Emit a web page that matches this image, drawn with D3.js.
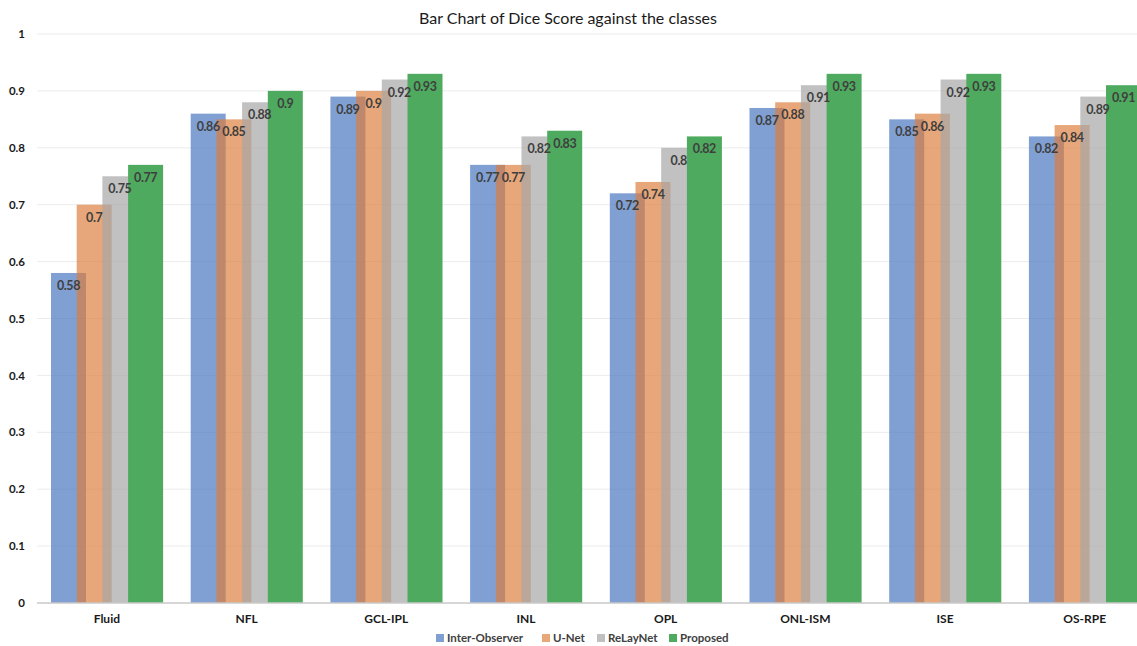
<!DOCTYPE html>
<html>
<head>
<meta charset="utf-8">
<script src="https://cdn.jsdelivr.net/npm/d3@7"></script>
<style>
  html, body { margin: 0; padding: 0; background: #fff; }
  svg { display: block; font-family: Lato, "Open Sans", sans-serif; }
</style>
</head>
<body>
<svg id="chart" width="1137" height="646"></svg>
<script>
// Dice scores per retinal layer class
const classes = ["Fluid", "NFL", "GCL-IPL", "INL", "OPL", "ONL-ISM", "ISE", "OS-RPE"];
const seriesNames = ["Inter-Observer", "U-Net", "ReLayNet", "Proposed"];
const interObserver = [0.58, 0.86, 0.89, 0.77, 0.72, 0.87, 0.85, 0.82];
const uNet          = [0.70, 0.85, 0.90, 0.77, 0.74, 0.88, 0.86, 0.84];
const reLayNet      = [0.75, 0.88, 0.92, 0.82, 0.80, 0.91, 0.92, 0.89];
const proposed      = [0.77, 0.90, 0.93, 0.83, 0.82, 0.93, 0.93, 0.91];
const yTicks = [0, 0.1, 0.2, 0.3, 0.4, 0.5, 0.6, 0.7, 0.8, 0.9, 1];

const seriesValues = [interObserver, uNet, reLayNet, proposed];
const colors = ["rgba(74,119,194,0.7)", "rgba(221,125,59,0.68)", "rgba(166,166,166,0.7)", "#4eaa5e"];
const legendColors = ["#80a0d4", "#e8a87a", "#c0c0c0", "#4eaa5e"];

const svg = d3.select("#chart");
const W = 1137, H = 646;
const plotLeft = 37, plotRight = 1137;
const yTop = 34, yBottom = 603;

// the category axis runs slightly past the right edge of the canvas
const x = d3.scaleBand().domain(classes).range([plotLeft, plotLeft + 8 * 139.7]).padding(0);
const y = d3.scaleLinear().domain([0, 1]).range([yBottom, yTop]);

// bars within a class overlap: each is wider than the step between them
const barW = 35;
const xs = d3.scalePoint().domain(seriesNames).range([14, 14 + 3 * 25.7]);

// title
svg.append("text")
  .attr("x", 568).attr("y", 24)
  .attr("text-anchor", "middle")
  .attr("font-size", 16)
  .attr("fill", "#1a1a1a")
  .text("Bar Chart of Dice Score against the classes");

// gridlines
svg.append("g")
  .selectAll("line")
  .data(yTicks.filter(t => t > 0))
  .join("line")
  .attr("x1", plotLeft).attr("x2", plotRight)
  .attr("y1", d => y(d)).attr("y2", d => y(d))
  .attr("stroke", "#ececec").attr("stroke-width", 1);

// y axis labels
const yAxis = d3.axisLeft(y).tickValues(yTicks).tickSize(0).tickPadding(12)
  .tickFormat(d => d3.format("~g")(d));
const yg = svg.append("g").attr("transform", `translate(${plotLeft},0)`).call(yAxis);
yg.select(".domain").remove();
yg.selectAll("text")
  .attr("font-family", "Lato, sans-serif")
  .attr("font-weight", "bold")
  .attr("font-size", 11.5)
  .attr("fill", "#1a1a1a");

// bars
const bars = svg.append("g");
seriesNames.forEach((s, si) => {
  bars.append("g")
    .selectAll("rect")
    .data(classes.map((c, ci) => ({ c, v: seriesValues[si][ci] })))
    .join("rect")
    .attr("x", d => x(d.c) + xs(s))
    .attr("width", barW)
    .attr("y", d => y(d.v))
    .attr("height", d => y(0) - y(d.v))
    .attr("fill", colors[si]);
});

// value labels drawn above all bars
const labels = svg.append("g");
seriesNames.forEach((s, si) => {
  labels.append("g")
    .selectAll("text")
    .data(classes.map((c, ci) => ({ c, v: seriesValues[si][ci] })))
    .join("text")
    .attr("x", d => x(d.c) + xs(s) + barW / 2)
    .attr("y", d => y(d.v) + 17)
    .attr("text-anchor", "middle")
    .attr("font-weight", "bold")
    .attr("font-size", 12.5)
    .attr("letter-spacing", -0.4)
    .attr("fill", "#3f3f3f")
    .text(d => d3.format("~g")(d.v));
});

// baseline
svg.append("line")
  .attr("x1", plotLeft).attr("x2", plotRight)
  .attr("y1", y(0)).attr("y2", y(0))
  .attr("stroke", "#c8c8c8").attr("stroke-width", 1.5);

// x axis labels
const xAxis = d3.axisBottom(x).tickSize(0).tickPadding(11);
const xg = svg.append("g").attr("transform", `translate(0,${y(0)})`).call(xAxis);
xg.select(".domain").remove();
xg.selectAll("text")
  .attr("font-family", "Lato, sans-serif")
  .attr("font-weight", "bold")
  .attr("font-size", 12)
  .attr("fill", "#1a1a1a");

// legend
const legendX = [436, 542, 597, 669];
const legend = svg.append("g");
seriesNames.forEach((s, i) => {
  legend.append("rect")
    .attr("x", legendX[i]).attr("y", 634)
    .attr("width", 8).attr("height", 8)
    .attr("fill", legendColors[i]);
  legend.append("text")
    .attr("x", legendX[i] + 11).attr("y", 642)
    .attr("font-weight", "bold")
    .attr("font-size", 11.5)
    .attr("fill", "#404040")
    .text(s);
});
</script>
</body>
</html>
